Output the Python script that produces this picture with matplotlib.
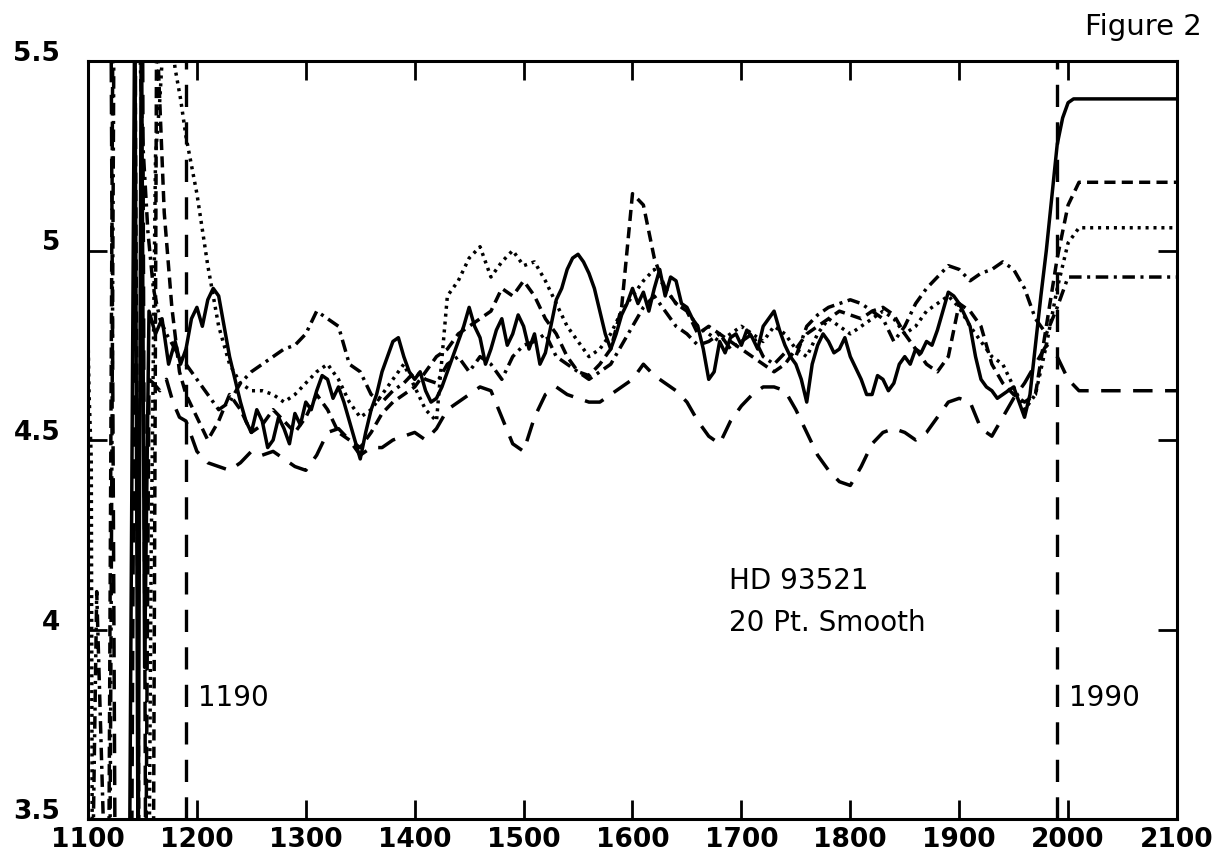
import matplotlib
matplotlib.use("Agg")
import matplotlib.pyplot as plt

plt.rcParams["lines.scale_dashes"] = False
plt.rcParams["font.family"] = ["DejaVu Sans"]

# wavelength grids for the smoothed part
wl = list(range(1190, 2011, 10))
wl5 = list(range(1190, 2011, 5))

# solid curve read every 5 A (it is the most jagged one)
solid = [4.74, 4.82, 4.85, 4.80, 4.87, 4.90, 4.88, 4.80, 4.72, 4.66,
         4.60, 4.55, 4.52, 4.58, 4.55, 4.48, 4.50, 4.56, 4.53, 4.49,
         4.57, 4.54, 4.60, 4.58, 4.63, 4.67, 4.66, 4.61, 4.64, 4.60,
         4.55, 4.50, 4.45, 4.52, 4.58, 4.62, 4.68, 4.72, 4.76, 4.77,
         4.72, 4.68, 4.66, 4.68, 4.63, 4.60, 4.61, 4.64, 4.68, 4.72,
         4.76, 4.80, 4.85, 4.80, 4.77, 4.70, 4.74, 4.79, 4.82, 4.75,
         4.78, 4.83, 4.80, 4.74, 4.78, 4.70, 4.73, 4.80, 4.87, 4.90,
         4.95, 4.98, 4.99, 4.97, 4.94, 4.90, 4.84, 4.78, 4.74, 4.78,
         4.83, 4.86, 4.90, 4.86, 4.89, 4.84, 4.90, 4.95, 4.88, 4.93,
         4.92, 4.86, 4.85, 4.82, 4.80, 4.74, 4.66, 4.68, 4.76, 4.73,
         4.77, 4.78, 4.75, 4.79, 4.77, 4.74, 4.80, 4.82, 4.84, 4.79,
         4.75, 4.72, 4.70, 4.66, 4.60, 4.70, 4.75, 4.78, 4.76, 4.73,
         4.74, 4.77, 4.72, 4.69, 4.66, 4.62, 4.62, 4.67, 4.66, 4.63,
         4.65, 4.70, 4.72, 4.70, 4.74, 4.73, 4.76, 4.75, 4.79, 4.84,
         4.89, 4.88, 4.86, 4.83, 4.80, 4.72, 4.66, 4.64, 4.63, 4.61,
         4.62, 4.63, 4.64, 4.60, 4.56, 4.62, 4.75, 4.88, 5.00, 5.14,
         5.28, 5.35, 5.39, 5.40, 5.40]

dashed = [4.62, 4.56, 4.50, 4.55, 4.62, 4.58, 4.52, 4.54, 4.58, 4.55,
          4.52, 4.56, 4.62, 4.58, 4.52, 4.50, 4.48, 4.52, 4.57, 4.60,
          4.62, 4.64, 4.68, 4.72, 4.74, 4.78, 4.80, 4.82, 4.84, 4.90,
          4.88, 4.92, 4.88, 4.82, 4.78, 4.72, 4.68, 4.67, 4.70, 4.74,
          4.85, 5.15, 5.12, 4.98, 4.90, 4.86, 4.84, 4.78, 4.80, 4.78,
          4.76, 4.74, 4.72, 4.70, 4.68, 4.70, 4.74, 4.78, 4.80, 4.82,
          4.84, 4.83, 4.82, 4.84, 4.85, 4.83, 4.78, 4.74, 4.70, 4.68,
          4.72, 4.86, 4.84, 4.80, 4.70, 4.65, 4.62, 4.60, 4.62, 4.80,
          4.98, 5.12, 5.18]

dotted = [5.30, 5.15, 4.96, 4.80, 4.70, 4.65, 4.63, 4.63, 4.62, 4.60,
          4.62, 4.65, 4.68, 4.70, 4.66, 4.60, 4.56, 4.58, 4.62, 4.66,
          4.70, 4.64, 4.58, 4.55, 4.88, 4.92, 4.98, 5.01, 4.93, 4.97,
          5.00, 4.96, 4.97, 4.92, 4.86, 4.80, 4.76, 4.72, 4.74, 4.78,
          4.84, 4.88, 4.92, 4.95, 4.90, 4.86, 4.84, 4.80, 4.78, 4.76,
          4.78, 4.80, 4.78, 4.76, 4.80, 4.78, 4.74, 4.72, 4.78, 4.82,
          4.80, 4.78, 4.80, 4.82, 4.84, 4.82, 4.78, 4.80, 4.84, 4.86,
          4.88, 4.85, 4.80, 4.76, 4.72, 4.70, 4.64, 4.58, 4.62, 4.75,
          4.90, 5.02, 5.06]

dashdot = [4.70, 4.66, 4.62, 4.58, 4.60, 4.65, 4.68, 4.70, 4.72, 4.74,
           4.75, 4.78, 4.84, 4.82, 4.80, 4.70, 4.68, 4.62, 4.60, 4.63,
           4.65, 4.68, 4.66, 4.65, 4.70, 4.72, 4.68, 4.72, 4.70, 4.66,
           4.72, 4.75, 4.76, 4.78, 4.72, 4.70, 4.68, 4.66, 4.68, 4.70,
           4.75, 4.80, 4.85, 4.88, 4.84, 4.80, 4.78, 4.75, 4.76, 4.78,
           4.74, 4.76, 4.78, 4.72, 4.70, 4.73, 4.72, 4.80, 4.83, 4.85,
           4.86, 4.87, 4.86, 4.84, 4.82, 4.76, 4.80, 4.86, 4.90, 4.93,
           4.96, 4.95, 4.92, 4.94, 4.95, 4.97, 4.95, 4.90, 4.82, 4.78,
           4.85, 4.93, 4.93]

longdash = [4.55, 4.47, 4.44, 4.43, 4.42, 4.44, 4.47, 4.46, 4.47, 4.45,
            4.43, 4.42, 4.46, 4.52, 4.53, 4.50, 4.46, 4.48, 4.48, 4.50,
            4.51, 4.52, 4.50, 4.53, 4.58, 4.60, 4.62, 4.64, 4.63, 4.56,
            4.49, 4.47, 4.56, 4.62, 4.64, 4.62, 4.61, 4.60, 4.60, 4.62,
            4.64, 4.66, 4.70, 4.67, 4.65, 4.63, 4.60, 4.55, 4.51, 4.49,
            4.55, 4.59, 4.62, 4.64, 4.64, 4.63, 4.58, 4.52, 4.46, 4.42,
            4.39, 4.38, 4.43, 4.49, 4.52, 4.53, 4.52, 4.50, 4.52, 4.56,
            4.60, 4.61, 4.60, 4.53, 4.51, 4.56, 4.61, 4.65, 4.70, 4.75,
            4.72, 4.66, 4.63]

# noisy unsmoothed start (runs off the plot top and bottom)
solid_lx = [1138, 1143, 1146, 1149, 1152, 1156, 1162, 1168, 1174, 1180, 1185]
solid_ly = [3.3, 5.7, 3.3, 5.7, 3.9, 4.84, 4.78, 4.82, 4.70, 4.76, 4.70]
dashed_lx = [1119, 1123, 1143, 1147, 1160, 1163, 1170, 1177, 1184]
dashed_ly = [3.3, 5.7, 5.7, 3.3, 3.3, 5.6, 5.10, 4.85, 4.68]
dotted_lx = [1100, 1101, 1103, 1104, 1156, 1158, 1162, 1166, 1170, 1175, 1180, 1185]
dotted_ly = [4.78, 4.62, 4.45, 3.3, 3.3, 4.2, 5.25, 5.40, 5.6, 5.6, 5.48, 5.40]
dashdot_lx = [1104, 1108, 1116, 1120, 1124, 1146, 1150, 1155, 1160, 1166, 1172, 1178, 1184]
dashdot_ly = [3.3, 4.1, 3.3, 3.3, 5.7, 5.7, 5.30, 5.05, 4.90, 4.82, 4.78, 4.75, 4.72]
longdash_lx = [1121, 1125, 1140, 1144, 1150, 1153, 1156, 1160, 1166, 1172, 1178, 1184]
longdash_ly = [5.7, 3.3, 3.3, 5.7, 5.7, 3.3, 4.66, 4.65, 4.63, 4.66, 4.60, 4.56]

x_end = 2100
markers = [1190, 1990]

series = [
    (solid_lx, solid_ly, wl5, solid, "-"),
    (dashed_lx, dashed_ly, wl, dashed, (0, (8, 4.5))),
    (dotted_lx, dotted_ly, wl, dotted, (0, (2.2, 3.5))),
    (dashdot_lx, dashdot_ly, wl, dashdot, (0, (9, 4, 2.2, 4))),
    (longdash_lx, longdash_ly, wl, longdash, (0, (14, 9))),
]

fig = plt.figure(figsize=(12.25, 8.61), dpi=100)
ax = fig.add_axes([88 / 1225, 1 - 819 / 861, (1177 - 88) / 1225, (819 - 61) / 861])

for lx, ly, grid, main, ls in series:
    xs = lx + grid + [x_end]
    ys = ly + main + [main[-1]]
    ax.plot(xs, ys, color="black", lw=2.5, linestyle=ls,
            solid_joinstyle="round", dash_capstyle="butt")

for m in markers:
    ax.axvline(m, color="black", lw=2.4, linestyle=(0, (16, 11)))

ax.set_xlim(1100, 2100)
ax.set_ylim(3.5, 5.5)
ax.set_xticks(range(1100, 2101, 100))
ax.set_yticks([3.5, 4, 4.5, 5, 5.5])
ax.set_yticklabels(["3.5", "4", "4.5", "5", "5.5"])
ax.tick_params(direction="in", length=14, width=2, top=True, right=True,
               labelsize=19)
ax.tick_params(axis="x", pad=6)
ax.tick_params(axis="y", pad=20)
for lab in ax.get_xticklabels() + ax.get_yticklabels():
    lab.set_fontweight("bold")
for lab in ax.get_yticklabels():
    lab.set_verticalalignment("baseline")
for sp in ax.spines.values():
    sp.set_linewidth(2.2)

ax.text(1201, 3.797, "1190", fontsize=20, va="baseline")
ax.text(2001, 3.797, "1990", fontsize=20, va="baseline")
ax.text(1689, 4.108, "HD 93521", fontsize=20, va="baseline")
ax.text(1689, 3.995, "20 Pt. Smooth", fontsize=20, va="baseline")
fig.text(1085 / 1225, 1 - 35 / 861, "Figure 2", fontsize=21, va="baseline")

fig.savefig("out.png", dpi=100)
